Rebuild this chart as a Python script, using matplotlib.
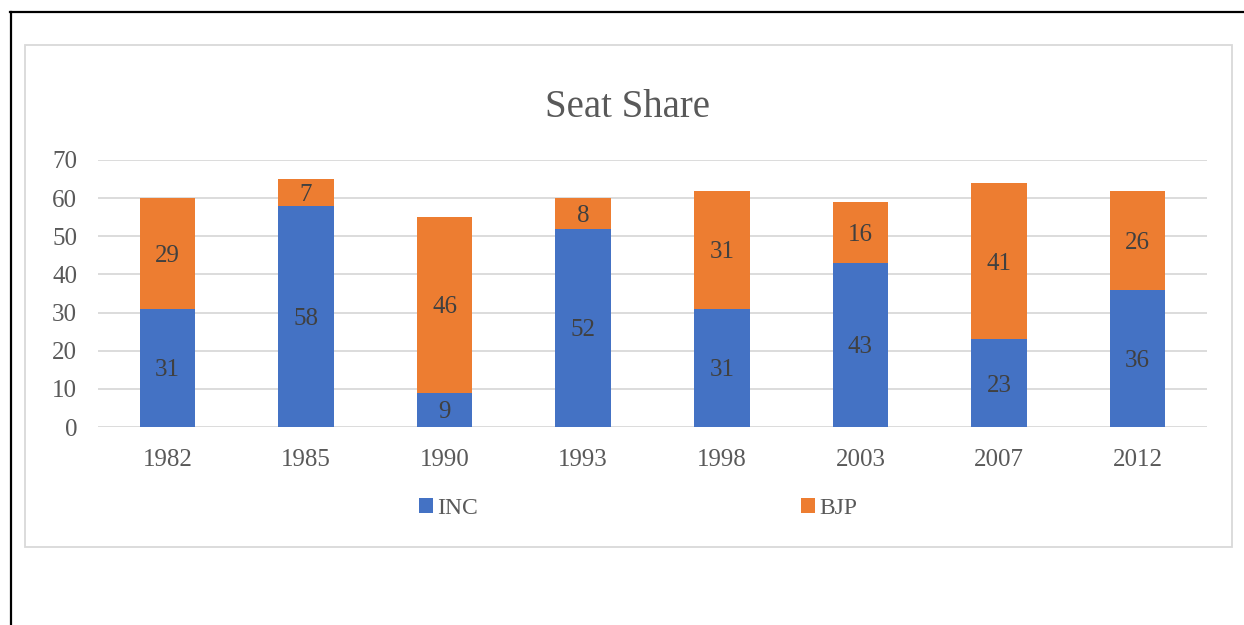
import matplotlib
matplotlib.use("Agg")
import matplotlib.pyplot as plt
from matplotlib.lines import Line2D
from matplotlib.patches import Rectangle
import numpy as np

years = ["1982", "1985", "1990", "1993", "1998", "2003", "2007", "2012"]
inc = [31, 58, 9, 52, 31, 43, 23, 36]
bjp = [29, 7, 46, 8, 31, 16, 41, 26]
title = "Seat Share"
series_names = ["INC", "BJP"]

BLUE = "#4472C4"
ORANGE = "#ED7D31"
W, H = 1244, 625

plt.rcParams['font.family'] = ['Liberation Serif', 'DejaVu Serif']

fig = plt.figure(figsize=(W / 100, H / 100), dpi=100)
fig.patch.set_facecolor("white")

# outer black frame lines
fig.add_artist(Line2D([10 / W, 1.0], [1 - 12 / H, 1 - 12 / H], color="black", lw=1.6, transform=fig.transFigure))
fig.add_artist(Line2D([11 / W, 11 / W], [0, 1 - 12 / H], color="black", lw=1.6, transform=fig.transFigure))
# inner chart border
fig.add_artist(Rectangle((25 / W, 1 - 547 / H), (1232 - 25) / W, (547 - 45) / H,
                         transform=fig.transFigure, fill=False, edgecolor="#d9d9d9", lw=1.3))

ax = fig.add_axes([98 / W, 1 - 427 / H, (1207 - 98) / W, (427 - 160) / H])
x = np.arange(len(years))
b1 = ax.bar(x, inc, width=0.4, color=BLUE, label=series_names[0], zorder=3)
b2 = ax.bar(x, bjp, width=0.4, bottom=inc, color=ORANGE, label=series_names[1], zorder=3)

for xi, a, b in zip(x, inc, bjp):
    ax.text(xi, a / 2, str(a), ha="center", va="center_baseline", fontsize=18, color="#404040", zorder=4)
    ax.text(xi, a + b / 2, str(b), ha="center", va="center_baseline", fontsize=18, color="#404040", zorder=4)

ax.set_xlim(-0.5, len(years) - 0.5)
ax.set_ylim(0, 70)
ax.set_yticks(range(0, 71, 10))
ax.set_xticks(x)
ax.set_xticklabels(years)
ax.tick_params(axis="both", length=0, labelsize=18, labelcolor="#595959")
ax.tick_params(axis="y", pad=15)
ax.tick_params(axis="x", pad=16)
for s in ax.spines.values():
    s.set_visible(False)
ax.grid(axis="y", color="#d9d9d9", lw=1.3, zorder=0)
ax.set_axisbelow(True)

fig.text(628 / W, 1 - 103 / H, title, ha="center", va="center_baseline", fontsize=28, color="#595959")

leg = fig.legend(handles=[b1, b2], labels=series_names, loc="center",
                 bbox_to_anchor=(638 / W, 1 - 508 / H), ncol=2, frameon=False,
                 fontsize=17, handlelength=0.6, handleheight=0.6, handletextpad=0.17,
                 columnspacing=13.7, labelcolor="#595959")

fig.savefig("out.png", dpi=100, facecolor="white")
